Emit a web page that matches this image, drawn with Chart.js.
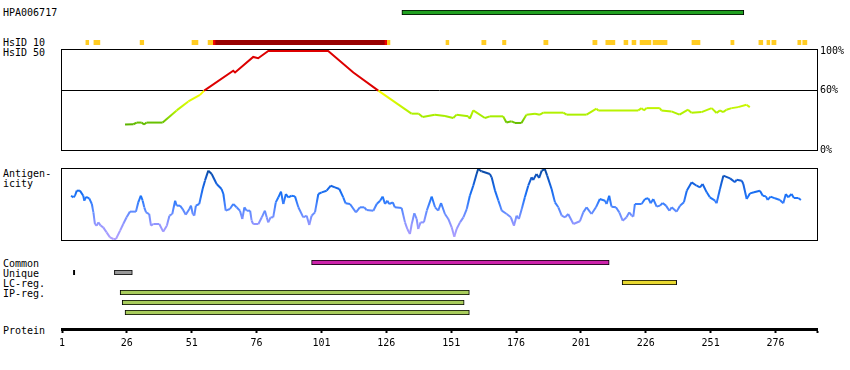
<!DOCTYPE html>
<html lang="en">
<head>
<meta charset="utf-8">
<title>HPA006717</title>
<script src="https://cdn.jsdelivr.net/npm/chart.js@4.4.1/dist/chart.umd.min.js"></script>
<style>
  html, body { margin: 0; padding: 0; background: #fff; }
  #wrap { position: relative; width: 850px; height: 370px; overflow: hidden;
          font-family: 'DejaVu Sans Mono', monospace; font-size: 10px; line-height: 10px; color: #000; }
  #wrap canvas { position: absolute; left: 0; }
  .lbl { position: absolute; left: 3px; white-space: pre; }
</style>
</head>
<body>
<div id="wrap">
  <div class="lbl" style="top:8px">HPA006717</div>
  <div class="lbl" style="top:38px">HsID 10</div>
  <div class="lbl" style="top:48px">HsID 50</div>
  <div class="lbl" style="top:169px">Antigen-</div>
  <div class="lbl" style="top:179px">icity</div>
  <div class="lbl" style="top:259px">Common</div>
  <div class="lbl" style="top:269px">Unique</div>
  <div class="lbl" style="top:279px">LC-reg.</div>
  <div class="lbl" style="top:289px">IP-reg.</div>
  <div class="lbl" style="top:326px">Protein</div>
</div>
<script>
// longueur de la protéine et graduations
const proteinLength = 292;
const axisTicks = [1, 26, 51, 76, 101, 126, 151, 176, 201, 226, 251, 276];
const identTicks = [0, 60, 100];

// pistes du haut
const hpaRanges = [[132.0, 263.8]];
const hsidYellow = [[10.2, 11.3], [13.3, 15.6], [31.1, 32.5], [51.1, 53.4], [57.3, 59.1], [126.4, 127.4],
  [149.0, 150.1], [162.8, 164.4], [170.8, 172.1], [186.7, 188.3], [205.6, 207.2], [210.6, 214.1],
  [217.6, 219.1], [220.7, 222.2], [223.8, 228.0], [228.8, 234.2], [243.8, 246.9], [258.8, 260.0],
  [269.6, 271.1], [272.7, 273.8], [274.6, 276.2], [284.6, 285.8], [286.5, 288.1]];
const hsidRed = [[59.1, 60.0], [125.5, 126.4], [244.5, 246.1]];
const hsidDark = [[60.0, 125.5]];

// identité (%)
const identPos = [25.3, 28.5, 29.8, 31.7, 32.6, 33.6, 39.8, 45.2, 49.7, 54.2, 55.8, 67.0, 67.7, 74.7, 76.6, 80.5,
  103.6, 113.3, 122.9, 135.7, 138.5, 140.0, 144.7, 148.6, 151.8, 153.1, 157.6, 158.2, 159.5, 164.0, 165.9,
  171.0, 172.3, 174.3, 175.6, 178.1, 180.0, 183.3, 185.2, 186.5, 194.2, 195.5, 203.2, 207.0, 207.7, 223.1,
  224.4, 225.3, 226.3, 231.4, 232.0, 235.9, 239.0, 242.3, 243.6, 247.5, 251.4, 253.3, 254.6, 255.8, 257.1,
  259.1, 261.6, 264.8, 266.1];
const identPct = [25.7, 26, 27.7, 27.7, 25.7, 27.7, 27.7, 40, 49, 55.7, 60, 80, 78.3, 94, 92.7, 100,
  100, 78.3, 60, 36.7, 36.7, 33.3, 35.7, 34.3, 32.3, 35.7, 34, 31.7, 40, 32.3, 34,
  34, 27.7, 29, 27.3, 27.3, 35.7, 36.7, 35.7, 37.7, 37.7, 35.7, 35.7, 41.7, 40, 40,
  42.3, 40, 42.3, 42.3, 40, 39, 35.7, 40.7, 37.7, 38.3, 42.3, 37.3, 40, 38.3, 40.7,
  42.3, 43.3, 45.7, 43.3];

// antigénicité (échelle relative 0-100)
const antiPos = [4.5, 5.4, 6.0, 6.7, 7.9, 9.2, 9.6, 10.3, 11.5, 12.5, 13.1, 13.7, 14.4, 15.0, 15.9, 16.9, 18.2, 19.5,
  20.8, 21.8, 23.4, 24.6, 25.9, 27.2, 29.5, 30.4, 31.4, 32.1, 32.7, 33.4, 34.6, 35.3, 36.2, 38.5, 40.0, 41.4,
  42.4, 43.5, 44.6, 45.2, 46.5, 47.5, 48.7, 50.1, 50.7, 51.4, 52.0, 52.6, 53.9, 55.2, 56.1, 57.4, 58.7, 60.6,
  62.5, 63.2, 64.1, 65.7, 67.0, 68.3, 69.6, 70.5, 71.3, 72.2, 73.5, 74.1, 74.7, 76.7, 78.0, 79.2, 79.9, 80.5,
  81.4, 82.4, 83.4, 84.4, 85.4, 86.3, 87.3, 88.2, 89.5, 90.8, 92.1, 94.0, 95.3, 96.3, 97.2, 98.5, 99.8, 101.1,
  103.0, 104.6, 106.2, 107.9, 109.4, 110.3, 112.0, 114.3, 115.8, 117.5, 118.4, 121.0, 122.3, 123.6, 124.6,
  125.5, 126.4, 127.1, 128.5, 129.3, 131.9, 133.2, 134.1, 135.1, 135.8, 136.8, 137.7, 138.3, 139.2, 140.5,
  141.6, 143.5, 144.8, 146.0, 147.1, 148.6, 149.9, 151.2, 152.2, 153.1, 154.4, 155.7, 157.0, 158.2, 159.5,
  160.8, 161.4, 162.7, 165.9, 166.6, 167.9, 169.2, 170.5, 172.4, 174.0, 175.2, 176.2, 177.1, 178.2, 179.4,
  180.7, 182.0, 182.6, 183.9, 184.9, 185.9, 187.1, 188.0, 189.7, 191.0, 192.3, 193.6, 194.9, 196.1, 198.1,
  200.6, 201.9, 203.2, 205.1, 206.8, 208.3, 210.3, 210.9, 211.9, 212.8, 214.5, 215.8, 217.1, 218.6, 219.6,
  220.6, 221.2, 221.8, 224.4, 225.7, 227.0, 227.9, 228.9, 230.2, 231.5, 232.5, 233.8, 235.1, 236.0, 237.9,
  239.2, 240.7, 241.8, 243.7, 245.6, 246.9, 247.9, 249.5, 250.7, 252.7, 253.3, 254.6, 255.9, 258.5, 260.4,
  261.0, 263.0, 263.6, 264.9, 266.2, 267.7, 270.0, 271.1, 272.3, 273.0, 274.1, 275.8, 277.7, 279.0, 280.0,
  280.9, 282.2, 283.1, 284.8, 285.8];
const antiVal = [61.5, 59.3, 61.5, 68.5, 68.5, 61.5, 54.6, 60, 57.9, 50, 38.4, 22.2, 19.9, 24.5, 19.9, 17.6, 10.6, 3.7,
  1.4, 1.4, 13, 22.2, 31.5, 39.4, 39.4, 52.3, 61.5, 54.6, 45.4, 38.4, 36.1, 19.9, 22.2, 22.2, 11.6, 19.9,
  33.8, 36.1, 54.6, 47.7, 47.7, 43, 35.2, 43, 47.7, 36.1, 33.8, 47.7, 50, 70.8, 82.4, 96.3, 91.7, 77.8,
  70.8, 63.9, 40.7, 43, 50, 45.4, 40.7, 29.2, 45.4, 40.7, 40.7, 26.8, 22.2, 22.2, 31.5, 40.7, 31.5, 24.5,
  31.5, 31.5, 52.3, 59.3, 67.1, 50, 63.9, 59.3, 61.5, 60.6, 45.4, 31.5, 33.8, 20.8, 33.8, 38.4, 63.9, 66.2,
  68.5, 75.4, 73.1, 70.8, 59.3, 51, 50, 38.4, 45.4, 45.4, 41.7, 40.7, 50, 54.6, 60.2,
  50, 54.6, 50, 52.3, 45.4, 44.4, 24.5, 15.3, 8.3, 22.2, 37, 29.2, 15.3, 24.5, 24.5,
  40.7, 60.2, 45.4, 40.7, 51.4, 36.1, 29.2, 17.6, 4.6, 15.3, 24.5, 31.5, 43, 61.5, 75.4,
  91.7, 98.6, 95.4, 91.7, 87, 68.5, 54.6, 40.7, 36.1, 31.5, 19.9, 33.8, 29.2, 43, 59.3,
  75.4, 87, 83.3, 91.7, 86.1, 96.3, 98.6, 89.4, 70.8, 52.3, 45.4, 33.8, 31.5, 36.1, 22.2,
  26, 38.4, 45.4, 36.1, 45.4, 56.9, 54.6, 50, 61.5, 46.3, 45.4, 38.4, 26.8, 31.5, 38.4,
  33.8, 32.4, 50, 50, 56.9, 57.9, 51, 56.9, 46.3, 47.7, 51.4, 47.7, 40.7, 45.4, 39.4,
  47.7, 52.3, 68.5, 80.1, 75.4, 73.1, 77.8, 66.2, 59.3, 54.6, 51, 70.8, 89.4, 85.6, 80.1,
  83.8, 82.4, 77.8, 56.9, 64.8, 66.2, 68.5, 61.5, 60.6, 55.6, 60.2, 57.9, 55.6, 51, 63.9,
  59.3, 63.9, 58.3, 58.3, 55.6];

// régions
const commonRanges = [[97.2, 211.9]];
const uniqueMarks = [[5.4, 5.9]];
const uniqueRanges = [[21.2, 28.1]];
const lcRanges = [[216.9, 237.9]];
const ipRanges1 = [[23.4, 158.0]];
const ipRanges2 = [[24.2, 156.0]];
const ipRanges3 = [[25.3, 158.0]];

// couleurs des courbes
const identStops = [[25, [90, 175, 0]], [28, [105, 195, 0]], [32, [160, 235, 0]], [45, [200, 248, 0]], [60, [255, 255, 0]]];
const antiStops = [[0, [176, 160, 255]], [20, [150, 150, 255]], [40, [95, 140, 255]], [60, [25, 115, 250]], [80, [20, 95, 220]], [100, [8, 70, 150]]];
const identRed = '#dd0000';

Chart.defaults.font = { family: "'DejaVu Sans Mono', monospace", size: 10 };
Chart.defaults.color = '#000';
Chart.defaults.responsive = false;
Chart.defaults.animation = false;
Chart.defaults.devicePixelRatio = 1;
Chart.defaults.plugins.legend.display = false;
Chart.defaults.plugins.tooltip.enabled = false;

const wrap = document.getElementById('wrap');

function addCanvas(top, height) {
    const c = document.createElement('canvas');
    c.width = 850;
    c.height = height;
    c.style.top = top + 'px';
    wrap.appendChild(c);
    return c;
}

function mix(stops, v) {
    if (v <= stops[0][0]) return stops[0][1];
    for (let i = 1; i < stops.length; i++) {
        if (v <= stops[i][0]) {
            const [v0, c0] = stops[i - 1];
            const [v1, c1] = stops[i];
            const t = (v - v0) / (v1 - v0);
            return c0.map((c, k) => Math.round(c + (c1[k] - c) * t));
        }
    }
    return stops[stops.length - 1][1];
}
const rgb = c => `rgb(${c[0]},${c[1]},${c[2]})`;

// dégradé le long d'un segment
function segGradient(ctx, stops) {
    const { p0, p1 } = ctx;
    const a = rgb(mix(stops, p0.parsed.y));
    const b = rgb(mix(stops, p1.parsed.y));
    if (p0.x === p1.x && p0.y === p1.y) return a;
    const g = ctx.chart.ctx.createLinearGradient(p0.x, p0.y, p1.x, p1.y);
    g.addColorStop(0, a);
    g.addColorStop(1, b);
    return g;
}

const framePlugin = {
    id: 'frame',
    afterDatasetsDraw(chart) {
        const { ctx, chartArea: a } = chart;
        ctx.save();
        ctx.strokeStyle = '#000';
        ctx.lineWidth = 1;
        ctx.strokeRect(a.left - 0.5, a.top + 0.5, a.right - a.left + 1, a.bottom - a.top);
        ctx.restore();
    }
};

function bars(ranges, fill, withBorder) {
    return {
        data: ranges.map(r => ({ y: 'row', x: r })),
        backgroundColor: fill,
        borderColor: '#000',
        borderWidth: withBorder ? 1 : 0,
        borderSkipped: false,
        grouped: false,
        barPercentage: 1,
        categoryPercentage: 1
    };
}

function trackChart(top, datasets) {
    return new Chart(addCanvas(top, 5), {
        type: 'bar',
        data: { labels: ['row'], datasets },
        options: {
            indexAxis: 'y',
            layout: { padding: { left: 62, right: 33, top: 0, bottom: 0 } },
            scales: {
                x: { type: 'linear', min: 1, max: proteinLength, display: false },
                y: { display: false }
            }
        }
    });
}

// HPA + HsID 10
trackChart(10, [bars(hpaRanges, '#20a020', true)]);
trackChart(40, [bars(hsidYellow, '#ffcc22', false), bars(hsidRed, '#ee0000', false), bars(hsidDark, '#990000', false)]);

// HsID 50 : identité
new Chart(addCanvas(40, 120), {
    type: 'line',
    data: {
        datasets: [{
            data: identPos.map((x, i) => ({ x, y: identPct[i] })),
            borderWidth: 2,
            pointRadius: 0,
            tension: 0,
            segment: {
                borderColor: ctx => Math.min(ctx.p0.parsed.y, ctx.p1.parsed.y) >= 60 ? identRed : segGradient(ctx, identStops)
            }
        }]
    },
    options: {
        layout: { padding: { left: 62, right: 0, top: 8, bottom: 10 } },
        scales: {
            x: { type: 'linear', min: 1, max: proteinLength, display: false },
            y: {
                position: 'right', min: 0, max: 102,
                afterBuildTicks: s => { s.ticks = identTicks.map(value => ({ value })); },
                afterFit: s => { s.width = 33; },
                border: { display: false },
                grid: { drawTicks: false, color: c => (c.tick && c.tick.value === 60) ? '#000' : 'rgba(0,0,0,0)' },
                ticks: { padding: 3, callback: v => v + '%' }
            }
        }
    },
    plugins: [framePlugin]
});

// antigénicité
new Chart(addCanvas(168, 73), {
    type: 'line',
    data: {
        datasets: [{
            data: antiPos.map((x, i) => ({ x, y: antiVal[i] })),
            borderWidth: 2,
            pointRadius: 0,
            tension: 0,
            segment: { borderColor: ctx => segGradient(ctx, antiStops) }
        }]
    },
    options: {
        layout: { padding: { left: 62, right: 33, top: 0, bottom: 1 } },
        scales: {
            x: { type: 'linear', min: 1, max: proteinLength, display: false },
            y: { min: 0, max: 100, display: false }
        }
    },
    plugins: [framePlugin]
});

// régions
trackChart(260, [bars(commonRanges, '#cc22aa', true)]);
trackChart(270, [bars(uniqueRanges, '#999999', true), bars(uniqueMarks, '#000000', false)]);
trackChart(280, [bars(lcRanges, '#e8d830', true)]);
trackChart(290, [bars(ipRanges1, '#a8cc5c', true)]);
trackChart(300, [bars(ipRanges2, '#a8cc5c', true)]);
trackChart(310, [bars(ipRanges3, '#a8cc5c', true)]);

// axe protéine
new Chart(addCanvas(300, 60), {
    type: 'scatter',
    data: { datasets: [] },
    options: {
        layout: { padding: { left: 62, right: 33, top: 0, bottom: 0 } },
        scales: {
            x: {
                type: 'linear', min: 1, max: proteinLength, position: 'bottom',
                afterBuildTicks: s => { s.ticks = axisTicks.concat(proteinLength).map(value => ({ value })); },
                afterFit: s => { s.height = 31; },
                border: { display: true, color: '#000', width: 3 },
                grid: { drawOnChartArea: false, drawTicks: true, tickLength: 4, tickWidth: 2, tickColor: '#000' },
                ticks: { padding: 4, maxRotation: 0, autoSkip: false, callback: v => axisTicks.includes(v) ? String(v) : '' }
            },
            y: { display: false }
        }
    }
});
</script>
</body>
</html>
